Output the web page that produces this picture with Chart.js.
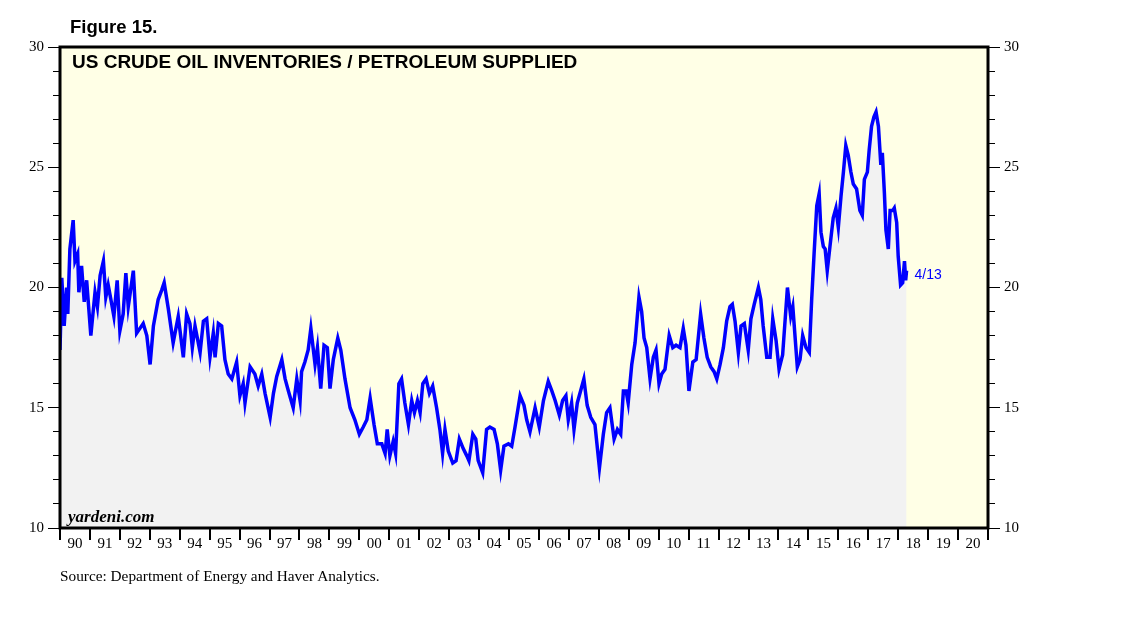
<!DOCTYPE html>
<html>
<head>
<meta charset="utf-8">
<script src="https://cdn.jsdelivr.net/npm/chart.js@4/dist/chart.umd.min.js"></script>
<style>
  body { margin: 0; background: #fff; }
  #wrap { position: relative; width: 1138px; height: 621px; }
  #fig { position: absolute; left: 70px; top: 16px; font: bold 18.5px "Liberation Sans", Arial, sans-serif; color: #000; }
  #src { position: absolute; left: 60px; top: 567px; font: 15.3px "Liberation Serif", "Times New Roman", serif; color: #000; }
</style>
</head>
<body>
<div id="wrap">
  <canvas id="myChart" width="1138" height="621"></canvas>
  <div id="fig">Figure 15.</div>
  <div id="src">Source: Department of Energy and Haver Analytics.</div>
</div>
<script>
// weekly series (decimal year, days of supply)
const dates = [
  1990.00,1990.06,1990.14,1990.22,1990.26,1990.33,1990.44,1990.50,1990.59,1990.63,1990.72,1990.81,1990.89,
  1991.03,1991.17,1991.25,1991.34,1991.45,1991.53,1991.61,1991.70,1991.80,1991.91,
  1992.00,1992.11,1992.20,1992.28,1992.45,1992.56,1992.67,1992.78,1992.90,
  1993.01,1993.12,1993.28,1993.40,1993.48,1993.62,1993.78,1993.95,
  1994.12,1994.23,1994.34,1994.42,1994.51,1994.68,1994.79,1994.90,
  1995.01,1995.12,1995.18,1995.29,1995.40,1995.51,1995.62,1995.74,1995.90,
  1996.01,1996.12,1996.18,1996.35,1996.51,1996.62,1996.74,1996.85,
  1997.02,1997.13,1997.24,1997.41,1997.52,1997.63,1997.79,1997.91,
  1998.02,1998.07,1998.18,1998.29,1998.38,1998.52,1998.60,1998.71,1998.82,1998.93,
  1999.02,1999.13,1999.28,1999.38,1999.52,1999.69,1999.85,
  2000.00,2000.13,2000.25,2000.36,2000.49,2000.60,2000.75,2000.86,2000.93,
  2001.02,2001.13,2001.21,2001.32,2001.41,2001.52,2001.64,2001.75,2001.84,2001.94,
  2002.03,2002.12,2002.23,2002.34,2002.45,2002.58,2002.69,2002.78,2002.86,2002.97,
  2003.12,2003.23,2003.34,2003.47,2003.59,2003.66,2003.79,2003.89,2003.97,
  2004.12,2004.25,2004.36,2004.50,2004.61,2004.72,2004.83,2004.98,
  2005.09,2005.20,2005.37,2005.50,2005.59,2005.70,2005.87,
  2006.01,2006.15,2006.31,2006.43,2006.54,2006.68,2006.79,2006.90,2006.98,
  2007.09,2007.17,2007.28,2007.39,2007.50,2007.61,2007.73,2007.87,
  2008.02,2008.15,2008.26,2008.37,2008.51,2008.62,2008.73,2008.82,2008.91,2008.98,
  2009.10,2009.21,2009.34,2009.43,2009.51,2009.60,2009.71,2009.82,2009.91,
  2010.01,2010.10,2010.21,2010.35,2010.47,2010.58,2010.71,2010.82,2010.91,
  2011.01,2011.14,2011.25,2011.40,2011.51,2011.62,2011.74,2011.85,2011.94,
  2012.05,2012.16,2012.27,2012.38,2012.46,2012.55,2012.66,2012.75,2012.86,2012.99,
  2013.08,2013.19,2013.33,2013.41,2013.49,2013.61,2013.72,2013.81,2013.92,
  2014.02,2014.14,2014.30,2014.41,2014.48,2014.63,2014.72,2014.81,2014.92,
  2015.03,2015.11,2015.19,2015.28,2015.36,2015.42,2015.50,2015.56,2015.63,2015.72,2015.83,2015.92,
  2016.00,2016.09,2016.17,2016.25,2016.33,2016.42,2016.50,2016.61,2016.72,2016.80,2016.87,2016.97,
  2017.03,2017.11,2017.19,2017.26,2017.34,2017.42,2017.47,2017.54,2017.59,2017.67,2017.73,2017.82,2017.87,2017.95,
  2018.00,2018.08,2018.15,2018.21,2018.25,2018.28
];
const supplyDays = [
  17.4,20.4,18.4,20.0,18.9,21.6,22.8,21.1,21.4,19.8,20.9,19.4,20.3,
  18.0,19.8,19.2,20.5,21.1,19.6,20.1,19.5,18.8,20.3,
  18.2,18.9,20.6,19.2,20.7,18.1,18.3,18.5,18.0,
  16.8,18.4,19.5,19.9,20.2,19.1,17.7,18.8,
  17.1,18.9,18.5,17.5,18.4,17.3,18.6,18.7,
  17.1,18.1,17.1,18.5,18.4,17.0,16.4,16.2,16.9,
  15.5,16.0,15.2,16.7,16.4,15.9,16.4,15.6,
  14.6,15.6,16.3,17.0,16.2,15.7,15.0,16.2,
  15.3,16.5,16.9,17.4,18.3,16.8,17.5,15.8,17.6,17.5,
  15.8,17.0,17.9,17.4,16.2,15.0,14.5,
  13.9,14.2,14.5,15.4,14.3,13.5,13.5,13.1,14.1,
  13.0,13.6,13.1,16.0,16.2,15.2,14.3,15.3,14.8,15.3,
  14.8,16.0,16.2,15.6,15.9,15.0,14.1,13.1,14.1,13.2,
  12.7,12.8,13.7,13.3,13.0,12.8,13.9,13.7,12.8,
  12.3,14.1,14.2,14.1,13.5,12.4,13.4,13.5,
  13.4,14.2,15.5,15.1,14.5,14.0,15.0,
  14.2,15.3,16.1,15.7,15.3,14.7,15.3,15.5,14.5,
  15.2,14.1,15.2,15.7,16.2,15.1,14.6,14.3,
  12.5,13.9,14.8,15.0,13.7,14.1,13.9,15.7,15.7,15.2,
  16.8,17.7,19.6,19.0,17.9,17.5,16.2,17.1,17.4,
  16.0,16.4,16.6,18.0,17.5,17.6,17.5,18.3,17.6,
  15.7,16.9,17.0,18.9,17.9,17.1,16.7,16.5,16.2,
  16.8,17.5,18.6,19.2,19.3,18.6,17.3,18.4,18.5,17.4,
  18.7,19.3,20.0,19.5,18.4,17.1,17.1,18.7,17.8,
  16.6,17.2,20.0,18.8,19.2,16.7,17.0,18.0,17.5,
  17.3,19.5,21.4,23.4,23.9,22.3,21.7,21.6,20.7,21.7,22.9,23.3,
  22.5,23.8,24.8,25.9,25.5,24.8,24.3,24.1,23.2,23.0,24.5,24.8,
  25.7,26.7,27.1,27.3,26.7,25.1,25.6,23.9,22.4,21.6,23.2,23.2,23.3,22.7,
  21.3,20.1,20.2,21.1,20.3,20.7
];
const yearTicks = { min: 1990, max: 2021 };
const valueTicks = { min: 10, max: 30, major: 5, minor: 1 };
const lastLabel = '4/13';

const serif = '"Liberation Serif", "Times New Roman", serif';
const sans = '"Liberation Sans", Arial, sans-serif';

const framePlugin = {
  id: 'frame',
  beforeDraw(chart) {
    const a = chart.chartArea, c = chart.ctx;
    c.save();
    c.fillStyle = '#ffffe6';
    c.fillRect(a.left, a.top, a.right - a.left, a.bottom - a.top);
    c.restore();
  },
  afterDraw(chart) {
    const a = chart.chartArea, c = chart.ctx;
    c.save();
    c.strokeStyle = '#000';
    c.lineWidth = 3;
    c.strokeRect(a.left, a.top, a.right - a.left, a.bottom - a.top);
    c.fillStyle = '#000';
    c.font = 'bold 19px ' + sans;
    c.textBaseline = 'alphabetic';
    c.fillText('US CRUDE OIL INVENTORIES / PETROLEUM SUPPLIED', a.left + 12, a.top + 21);
    c.font = 'italic bold 17px ' + serif;
    c.fillText('yardeni.com', a.left + 8, a.bottom - 6);
    const pts = chart.getDatasetMeta(0).data;
    const p = pts[pts.length - 1];
    c.fillStyle = '#0000ff';
    c.font = '14px ' + sans;
    c.textBaseline = 'middle';
    c.fillText(lastLabel, p.x + 8, p.y + 4);
    c.restore();
  }
};

const ctx = document.getElementById('myChart');

const minorY = (pos) => ({
  position: pos, weight: 0, min: valueTicks.min, max: valueTicks.max,
  ticks: { display: false, stepSize: valueTicks.minor },
  grid: { drawOnChartArea: false, tickLength: 7, color: '#000', lineWidth: 1 },
  border: { display: false }
});
const majorY = (pos) => ({
  position: pos, weight: 1, min: valueTicks.min, max: valueTicks.max,
  ticks: { stepSize: valueTicks.major, color: '#000', padding: 4, font: { family: serif, size: 15 } },
  grid: { drawOnChartArea: false, tickLength: 5, color: '#000', lineWidth: 1 },
  border: { display: false }
});

new Chart(ctx, {
  type: 'line',
  data: {
    datasets: [{
      data: dates.map((d, i) => ({ x: d, y: supplyDays[i] })),
      borderColor: '#0000ff',
      borderWidth: 3.5,
      backgroundColor: '#f2f2f2',
      fill: 'start',
      pointRadius: 0,
      tension: 0
    }]
  },
  plugins: [framePlugin],
  options: {
    responsive: false,
    animation: false,
    layout: { padding: { left: 25, right: 115, top: 47, bottom: 73 } },
    plugins: { legend: { display: false }, tooltip: { enabled: false } },
    scales: {
      x: {
        type: 'linear', min: yearTicks.min, max: yearTicks.max,
        ticks: {
          stepSize: 1, autoSkip: false, maxRotation: 0, labelOffset: 15, padding: -5,
          color: '#000', font: { family: serif, size: 15 },
          callback: (v) => v === yearTicks.max ? '' : String(v).slice(2)
        },
        grid: { drawOnChartArea: false, tickLength: 12, color: '#000', lineWidth: 2 },
        border: { display: false }
      },
      y: minorY('left'),
      yL: majorY('left'),
      yR: minorY('right'),
      yR2: majorY('right')
    }
  }
});
</script>
</body>
</html>
